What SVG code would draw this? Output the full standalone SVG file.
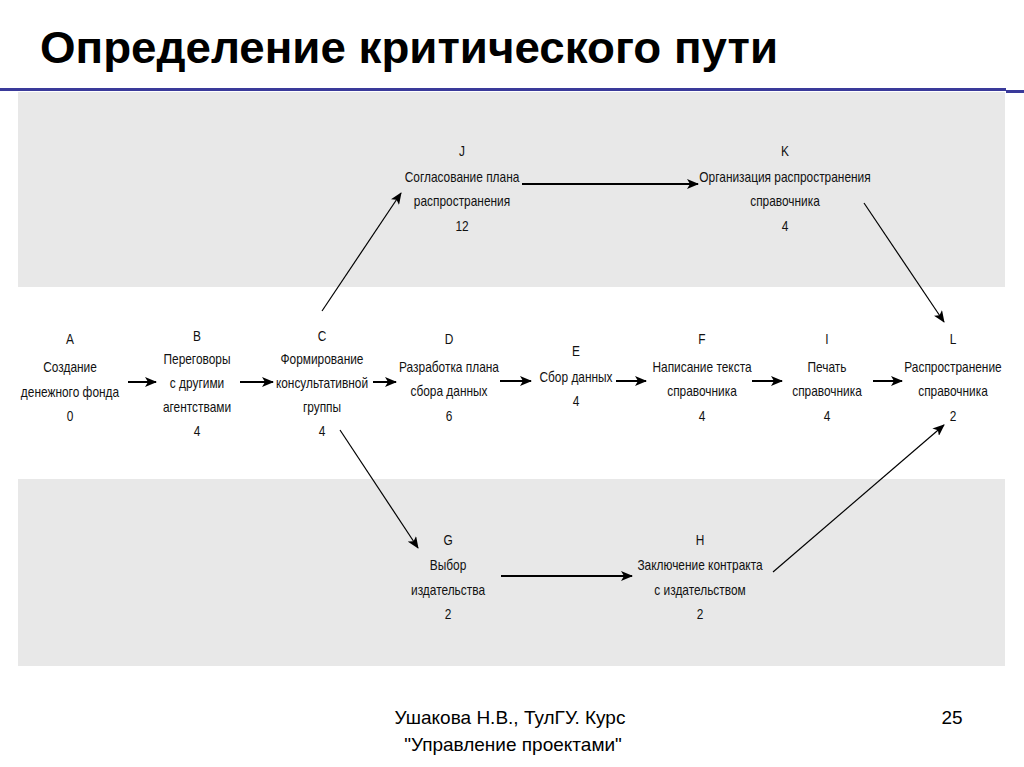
<svg xmlns="http://www.w3.org/2000/svg" width="1024" height="767" viewBox="0 0 1024 767">
<defs>
<style>
.t{font-family:"Liberation Sans",Arial,sans-serif;font-size:14px;fill:#111;text-anchor:middle}
.band{fill:#e8e8e8}
.h{stroke:#000;stroke-width:2;fill:none}
.d{stroke:#000;stroke-width:1.2;fill:none}
.f{font-family:"Liberation Sans",Arial,sans-serif;font-size:19px;fill:#000;text-anchor:middle}
</style>
<marker id="ah" markerWidth="12" markerHeight="10" refX="11" refY="5" orient="auto" markerUnits="userSpaceOnUse">
<path d="M0,0 L12,5 L0,10 L3,5 z" fill="#000"/>
</marker>
</defs>
<rect width="1024" height="767" fill="#fff"/>
<text x="40" y="63" font-family="'Liberation Sans',Arial,sans-serif" font-size="45" font-weight="bold" textLength="738" lengthAdjust="spacingAndGlyphs">Определение критического пути</text>
<rect x="0" y="88" width="1006" height="3" fill="#3a3a9a"/>
<rect x="1006" y="90" width="18" height="3" fill="#3a3a9a"/>
<rect class="band" x="18" y="92" width="987" height="195"/>
<rect class="band" x="18" y="479" width="987" height="187"/>

<g id="connectors">
<line class="h" x1="128" y1="382" x2="156" y2="382" marker-end="url(#ah)"/>
<line class="h" x1="240" y1="382" x2="273" y2="382" marker-end="url(#ah)"/>
<line class="h" x1="373" y1="382" x2="396" y2="382" marker-end="url(#ah)"/>
<line class="h" x1="500" y1="381" x2="531" y2="381" marker-end="url(#ah)"/>
<line class="h" x1="616" y1="381" x2="646" y2="381" marker-end="url(#ah)"/>
<line class="h" x1="752" y1="381" x2="782" y2="381" marker-end="url(#ah)"/>
<line class="h" x1="873" y1="381" x2="902" y2="381" marker-end="url(#ah)"/>
<line class="h" x1="522" y1="184" x2="698" y2="184" marker-end="url(#ah)"/>
<line class="h" x1="501" y1="576" x2="632" y2="576" marker-end="url(#ah)"/>
<line class="d" x1="322" y1="311" x2="401" y2="193" marker-end="url(#ah)"/>
<line class="d" x1="864" y1="203" x2="944" y2="322" marker-end="url(#ah)"/>
<line class="d" x1="340" y1="430" x2="418" y2="548" marker-end="url(#ah)"/>
<line class="d" x1="773" y1="572" x2="944" y2="425" marker-end="url(#ah)"/>
</g>

<g id="A" transform="translate(70,0) scale(0.85,1)"><text class="t" x="0" y="344">A</text><text class="t" x="0" y="372">Создание</text><text class="t" x="0" y="397">денежного фонда</text><text class="t" x="0" y="421">0</text></g>
<g id="B" transform="translate(197,0) scale(0.85,1)"><text class="t" x="0" y="341">B</text><text class="t" x="0" y="364">Переговоры</text><text class="t" x="0" y="388">с другими</text><text class="t" x="0" y="412">агентствами</text><text class="t" x="0" y="436">4</text></g>
<g id="C" transform="translate(322,0) scale(0.85,1)"><text class="t" x="0" y="341">C</text><text class="t" x="0" y="364">Формирование</text><text class="t" x="0" y="388">консультативной</text><text class="t" x="0" y="412">группы</text><text class="t" x="0" y="436">4</text></g>
<g id="D" transform="translate(449,0) scale(0.85,1)"><text class="t" x="0" y="344">D</text><text class="t" x="0" y="372">Разработка плана</text><text class="t" x="0" y="396">сбора данных</text><text class="t" x="0" y="421">6</text></g>
<g id="E" transform="translate(576,0) scale(0.85,1)"><text class="t" x="0" y="356">E</text><text class="t" x="0" y="382">Сбор данных</text><text class="t" x="0" y="406">4</text></g>
<g id="F" transform="translate(702,0) scale(0.85,1)"><text class="t" x="0" y="344">F</text><text class="t" x="0" y="372">Написание текста</text><text class="t" x="0" y="396">справочника</text><text class="t" x="0" y="421">4</text></g>
<g id="I" transform="translate(827,0) scale(0.85,1)"><text class="t" x="0" y="344">I</text><text class="t" x="0" y="372">Печать</text><text class="t" x="0" y="396">справочника</text><text class="t" x="0" y="421">4</text></g>
<g id="L" transform="translate(953,0) scale(0.85,1)"><text class="t" x="0" y="344">L</text><text class="t" x="0" y="372">Распространение</text><text class="t" x="0" y="396">справочника</text><text class="t" x="0" y="421">2</text></g>
<g id="J" transform="translate(462,0) scale(0.85,1)"><text class="t" x="0" y="156">J</text><text class="t" x="0" y="182">Согласование плана</text><text class="t" x="0" y="206">распространения</text><text class="t" x="0" y="231">12</text></g>
<g id="K" transform="translate(785,0) scale(0.85,1)"><text class="t" x="0" y="156">K</text><text class="t" x="0" y="182">Организация распространения</text><text class="t" x="0" y="206">справочника</text><text class="t" x="0" y="231">4</text></g>
<g id="G" transform="translate(448,0) scale(0.85,1)"><text class="t" x="0" y="545">G</text><text class="t" x="0" y="570">Выбор</text><text class="t" x="0" y="595">издательства</text><text class="t" x="0" y="619">2</text></g>
<g id="H" transform="translate(700,0) scale(0.85,1)"><text class="t" x="0" y="545">H</text><text class="t" x="0" y="570">Заключение контракта</text><text class="t" x="0" y="595">с издательством</text><text class="t" x="0" y="619">2</text></g>

<text class="f" x="510" y="724">Ушакова Н.В., ТулГУ. Курс</text>
<text class="f" x="513" y="751">"Управление проектами"</text>
<text class="f" x="952" y="724">25</text>
</svg>
